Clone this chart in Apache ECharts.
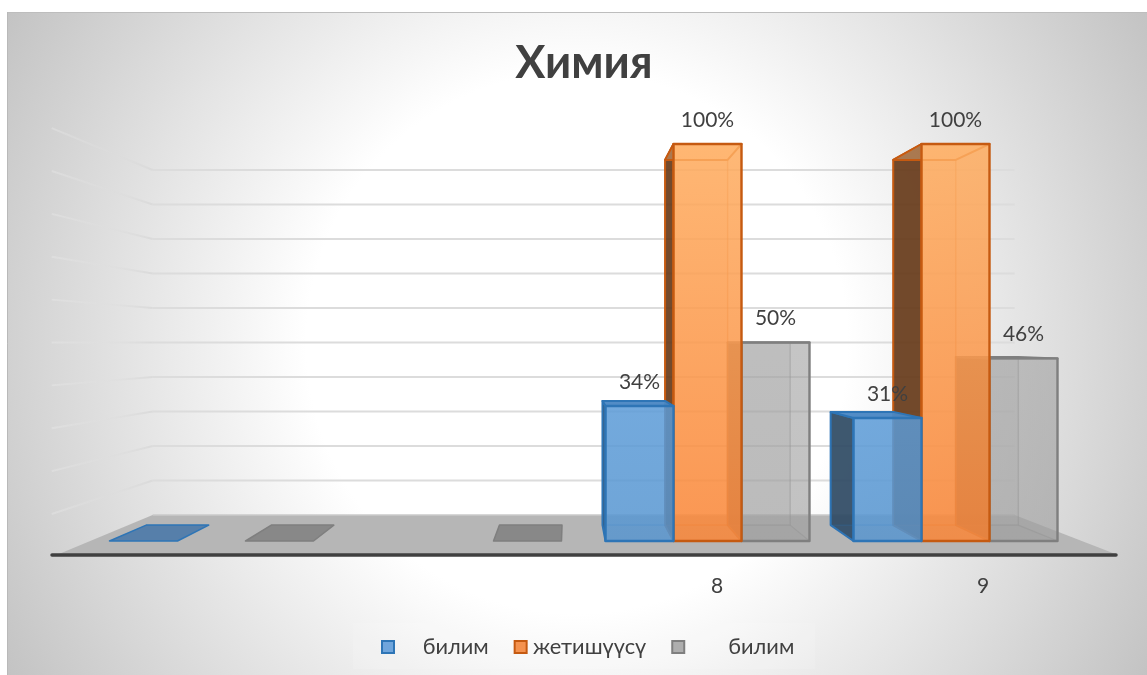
<!DOCTYPE html>
<html>
<head>
<meta charset="utf-8">
<style>html,body{margin:0;padding:0;background:#fff}#c{width:1147px;height:675px}</style>
<script src="https://cdn.jsdelivr.net/npm/echarts@6/dist/echarts.min.js"></script>
</head>
<body>
<div id="c"></div>
<script>
const titleText = 'Химия';
const categories = ['', '', '8', '9'];
const knowledgeName = '\u00a0\u00a0\u00a0\u00a0\u200aбилим';
const achievementName = '\u200aжетишүүсү';
const qualityName = '\u00a0\u00a0\u00a0\u00a0\u00a0\u00a0\u00a0билим';
const knowledgeValues = [0, null, 34, 31];
const achievementValues = [null, null, 100, 100];
const qualityValues = [0, 0, 50, 46];
const gridTicks = [0, 10, 20, 30, 40, 50, 60, 70, 80, 90, 100];

const FONT = 'Lato,"Noto Sans",sans-serif';
const VX = 568, BAR_BACK = 0.92, WALL = 0.869, FLOOR_FRONT = 1.07, WALL_NEAR = 1.08;
const PLANE_L = 90, PLANE_R = 1082;
const BAR_RATIO = 68 / 248;

const palette = {
  blue: {
    legend: '#6FA5DC', border: '#2E75B6', left: 'rgba(46,72,96,.9)', top: 'rgba(75,135,195,.95)',
    back: 'rgba(91,155,213,.25)', right: 'rgba(60,110,160,.12)', bottom: 'rgba(60,110,160,.12)',
    frontTop: 'rgba(93,156,216,.82)', frontBottom: 'rgba(88,150,208,.82)', flat: '#567FAA'
  },
  orange: {
    legend: '#F4924F', border: '#C55A11', left: 'rgba(100,56,25,.9)', top: 'rgba(255,190,130,.4)',
    back: 'rgba(237,125,49,.2)', right: 'rgba(200,100,40,.1)', bottom: 'rgba(180,90,30,.15)',
    frontTop: 'rgba(255,175,99,.85)', frontBottom: 'rgba(250,136,59,.85)', flat: '#C97A3F'
  },
  gray: {
    legend: '#AEAEAE', border: '#7F7F7F', left: 'rgba(85,85,85,.9)', top: 'rgba(170,170,170,.6)',
    back: 'rgba(165,165,165,.3)', right: 'rgba(130,130,130,.08)', bottom: 'rgba(120,120,120,.15)',
    frontTop: 'rgba(165,165,165,.6)', frontBottom: 'rgba(160,160,160,.6)', flat: '#888888'
  }
};

function toData(values) {
  const out = [];
  values.forEach((v, i) => { if (v !== null) out.push([i, v]); });
  return out;
}

function barRenderer(slot, pal) {
  return function (params, api) {
    const cat = api.value(0), v = api.value(1);
    const base = api.coord([cat, 0]);
    const top = api.coord([cat, v]);
    const eyeY = api.coord([cat, 50])[1];
    const band = api.size([1, 0])[0];
    const w = band * BAR_RATIO;
    const x0 = base[0] + (slot - 1.5) * w, x1 = x0 + w;
    const P = (x, y, s) => [VX + (x - VX) * s, eyeY + (y - eyeY) * s];
    const poly = (pts, fill, stroke, lw) => ({
      type: 'polygon', shape: { points: pts },
      style: { fill: fill, stroke: stroke || 'none', lineWidth: lw || 0, lineJoin: 'round' }
    });
    const fTL = [x0, top[1]], fTR = [x1, top[1]], fBR = [x1, base[1]], fBL = [x0, base[1]];
    const bTL = P(x0, top[1], BAR_BACK), bTR = P(x1, top[1], BAR_BACK);
    const bBR = P(x1, base[1], BAR_BACK), bBL = P(x0, base[1], BAR_BACK);
    if (v === 0) {
      return { type: 'group', children: [poly([fBL, fBR, bBR, bBL], pal.flat, pal.border, 1.5)] };
    }
    const faint = pal.border.replace('#', '');
    const fr = parseInt(faint.slice(0, 2), 16), fg = parseInt(faint.slice(2, 4), 16), fb = parseInt(faint.slice(4, 6), 16);
    const soft = 'rgba(' + fr + ',' + fg + ',' + fb + ',.26)';
    return {
      type: 'group',
      children: [
        poly([bTL, bTR, bBR, bBL], pal.back, soft, 1.5),
        poly([fTL, bTL, bBL, fBL], pal.left, pal.border, 2),
        poly([fBL, fBR, bBR, bBL], pal.bottom, soft, 1.2),
        poly([fTR, bTR, bBR, fBR], pal.right, soft, 1.2),
        poly([fTL, fTR, bTR, bTL], pal.top, pal.border, 2),
        poly([fTL, fTR, fBR, fBL], new echarts.graphic.LinearGradient(0, 0, 0, 1, [
          { offset: 0, color: pal.frontTop }, { offset: 1, color: pal.frontBottom }
        ]), pal.border, 2.4),
        {
          type: 'text', z2: 50,
          style: {
            text: v + '%', x: (x0 + x1) / 2, y: top[1] - 24, align: 'center', verticalAlign: 'middle',
            fill: '#404040', font: '21px ' + FONT
          }
        }
      ]
    };
  };
}

function wallRenderer(params, api) {
  const v = api.value(0);
  const y = api.coord([0, v])[1];
  const eyeY = api.coord([0, 50])[1];
  const P = (x, yy, s) => [VX + (x - VX) * s, eyeY + (yy - eyeY) * s];
  const a = P(PLANE_L, y, WALL), b = P(PLANE_R, y, WALL), c = P(PLANE_L, y, WALL_NEAR);
  if (v === 0) {
    const fl = P(PLANE_L, y, FLOOR_FRONT), fr = P(PLANE_R, y, FLOOR_FRONT);
    return {
      type: 'group', children: [
        { type: 'polygon', shape: { points: [a, b, fr, fl] }, style: { fill: '#B6B6B6' } },
        { type: 'line', shape: { x1: a[0], y1: a[1], x2: b[0], y2: b[1] }, style: { stroke: '#CACACA', lineWidth: 1.5 } }
      ]
    };
  }
  return {
    type: 'group', children: [
      { type: 'line', shape: { x1: a[0], y1: a[1], x2: b[0], y2: b[1] }, style: { stroke: '#DCDCDC', lineWidth: 2 } },
      {
        type: 'polyline', shape: { points: [a, c] },
        style: {
          fill: 'none', lineWidth: 2,
          stroke: new echarts.graphic.LinearGradient(c[0], c[1], a[0], a[1], [
            { offset: 0, color: 'rgba(236,236,236,.35)' }, { offset: 0.6, color: 'rgba(220,220,220,.25)' }, { offset: 1, color: '#DADADA' }
          ], true)
        }
      }
    ]
  };
}

function barSeries(name, values, slot, pal) {
  return {
    type: 'custom', name: name, xAxisIndex: 0, yAxisIndex: 0, coordinateSystem: 'cartesian2d',
    data: toData(values), renderItem: barRenderer(slot, pal), silent: true, z: 3,
    encode: { x: 0, y: 1 },
    itemStyle: { color: pal.legend, borderColor: pal.border, borderWidth: 2 }
  };
}

const chart = echarts.init(document.getElementById('c'), null, { renderer: 'canvas' });
chart.setOption({
  animation: false,
  backgroundColor: '#ffffff',
  graphic: [
    {
      type: 'rect', z: -5, shape: { x: 7, y: 12, width: 1140, height: 663 },
      style: {
        fill: new echarts.graphic.RadialGradient(577, 343, 660, [
          { offset: 0, color: '#ffffff' }, { offset: 0.41, color: '#ffffff' }, { offset: 1, color: '#C3C3C3' }
        ], true)
      }
    },
    { type: 'line', z: -4, shape: { x1: 7, y1: 12.5, x2: 1147, y2: 12.5 }, style: { stroke: '#BDBDBD', lineWidth: 1 } },
    { type: 'line', z: -4, shape: { x1: 7.5, y1: 12, x2: 7.5, y2: 675 }, style: { stroke: '#B9B9B9', lineWidth: 1 } },
    { type: 'rect', z: -3, shape: { x: 353, y: 623, width: 462, height: 46 }, style: { fill: 'rgba(255,255,255,.12)' } }
  ],
  title: {
    text: titleText, left: 579, top: 36, textAlign: 'center',
    textStyle: { fontFamily: FONT, fontSize: 45, fontWeight: 'bold', color: '#404040' }
  },
  legend: {
    data: [knowledgeName, achievementName, qualityName],
    left: 381, top: 636, padding: 0, itemWidth: 12, itemHeight: 12, itemGap: 25,
    icon: 'rect', selectedMode: false,
    textStyle: { fontFamily: FONT, fontSize: 21.8, color: '#404040' }
  },
  grid: [
    { left: 87.5, width: 992, top: 144, height: 397 },
    { left: 52, width: 1064, top: 144, height: 411 }
  ],
  xAxis: [
    { type: 'category', gridIndex: 0, data: categories, show: false },
    {
      type: 'category', gridIndex: 1, data: categories, z: 5,
      axisTick: { show: false },
      axisLine: { show: true, lineStyle: { color: '#404040', width: 3.5, cap: 'round' } },
      axisLabel: { interval: 0, margin: 21, color: '#404040', fontFamily: FONT, fontSize: 21 }
    }
  ],
  yAxis: [
    { type: 'value', gridIndex: 0, min: 0, max: 100, show: false },
    { type: 'value', gridIndex: 1, min: 0, max: 100, show: false }
  ],
  series: [
    {
      type: 'custom', name: 'wall', xAxisIndex: 0, yAxisIndex: 0, coordinateSystem: 'cartesian2d',
      data: gridTicks.map(v => [v]), renderItem: wallRenderer, silent: true, z: 1,
      encode: { y: 0 }
    },
    barSeries(qualityName, qualityValues, 2, palette.gray),
    barSeries(achievementName, achievementValues, 1, palette.orange),
    barSeries(knowledgeName, knowledgeValues, 0, palette.blue)
  ]
});
</script>
</body>
</html>
